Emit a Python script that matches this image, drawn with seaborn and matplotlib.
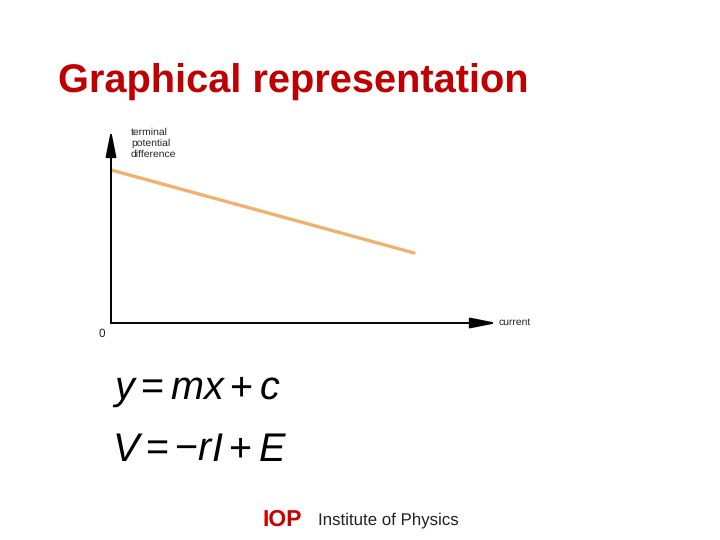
import matplotlib
matplotlib.use("Agg")
import matplotlib.pyplot as plt
import seaborn as sns
import pandas as pd

# terminal p.d. falls linearly as current rises
current = [0.0, 7.85]
voltage = [7.93, 3.63]

title = "Graphical representation"
y_label = "terminal\npotential\ndifference"
x_label = "current"
equations = [r"$y = mx + c$", r"$V = -rI + E$"]

sns.set_theme(style="white")
plt.rcParams["font.family"] = ["Liberation Sans", "DejaVu Sans"]
plt.rcParams["mathtext.fontset"] = "custom"
plt.rcParams["mathtext.it"] = "Liberation Sans:italic"
plt.rcParams["mathtext.rm"] = "Liberation Sans"
plt.rcParams["text.hinting"] = "no_hinting"

W, H = 720, 540
fig = plt.figure(figsize=(7.2, 5.4), dpi=100)
fig.patch.set_facecolor("white")

# axes placed in pixel terms
x0, x1, yb, yt = 111, 497, 323, 130
ax = fig.add_axes([x0 / W, 1 - yb / H, (x1 - x0) / W, (yb - yt) / H])
df = pd.DataFrame({"current": current, "voltage": voltage})
sns.lineplot(data=df, x="current", y="voltage", ax=ax, color="#F2B06E", linewidth=2.4)
ax.set_xlim(0, 10)
ax.set_ylim(0, 10)
ax.set_xticks([])
ax.set_yticks([])
ax.set_xlabel("")
ax.set_ylabel("")
for s in ax.spines.values():
    s.set_visible(False)
ax.patch.set_alpha(0)

arrow = dict(arrowstyle="-|>,head_length=1.6,head_width=0.32", color="black",
             lw=1.4, mutation_scale=10, shrinkA=0, shrinkB=0)
ax.annotate("", xy=(1, 0), xytext=(0, 0), xycoords="axes fraction", arrowprops=arrow)
ax.annotate("", xy=(0, 1), xytext=(0, 0), xycoords="axes fraction", arrowprops=arrow)

fig.text(58 / W, 1 - 82 / H, title, color="#C00000", fontsize=28.6, fontweight="bold",
         va="center", ha="left")
fig.text(131 / W, 1 - 128 / H, y_label, fontsize=7.5, va="top", ha="left",
         color="#222222", linespacing=1.2)
fig.text(499 / W, 1 - 322 / H, x_label, fontsize=7.5, va="center", ha="left", color="#222222")
fig.text(102 / W, 1 - 334 / H, "0", fontsize=8.5, va="center", ha="center", color="#222222")

fig.text(112 / W, 1 - 400 / H, equations[0], fontsize=28.5, va="baseline", ha="left", color="black")
fig.text(112 / W, 1 - 461 / H, equations[1], fontsize=28.5, va="baseline", ha="left", color="black")

fig.text(262 / W, 1 - 520 / H, "IOP", color="#CC0000", fontsize=16.5, fontweight="bold",
         va="center", ha="left")
fig.text(318 / W, 1 - 520 / H, "Institute of Physics", fontsize=12.2, va="center", ha="left",
         color="#222222")

fig.savefig("out.png", dpi=100, facecolor="white")
